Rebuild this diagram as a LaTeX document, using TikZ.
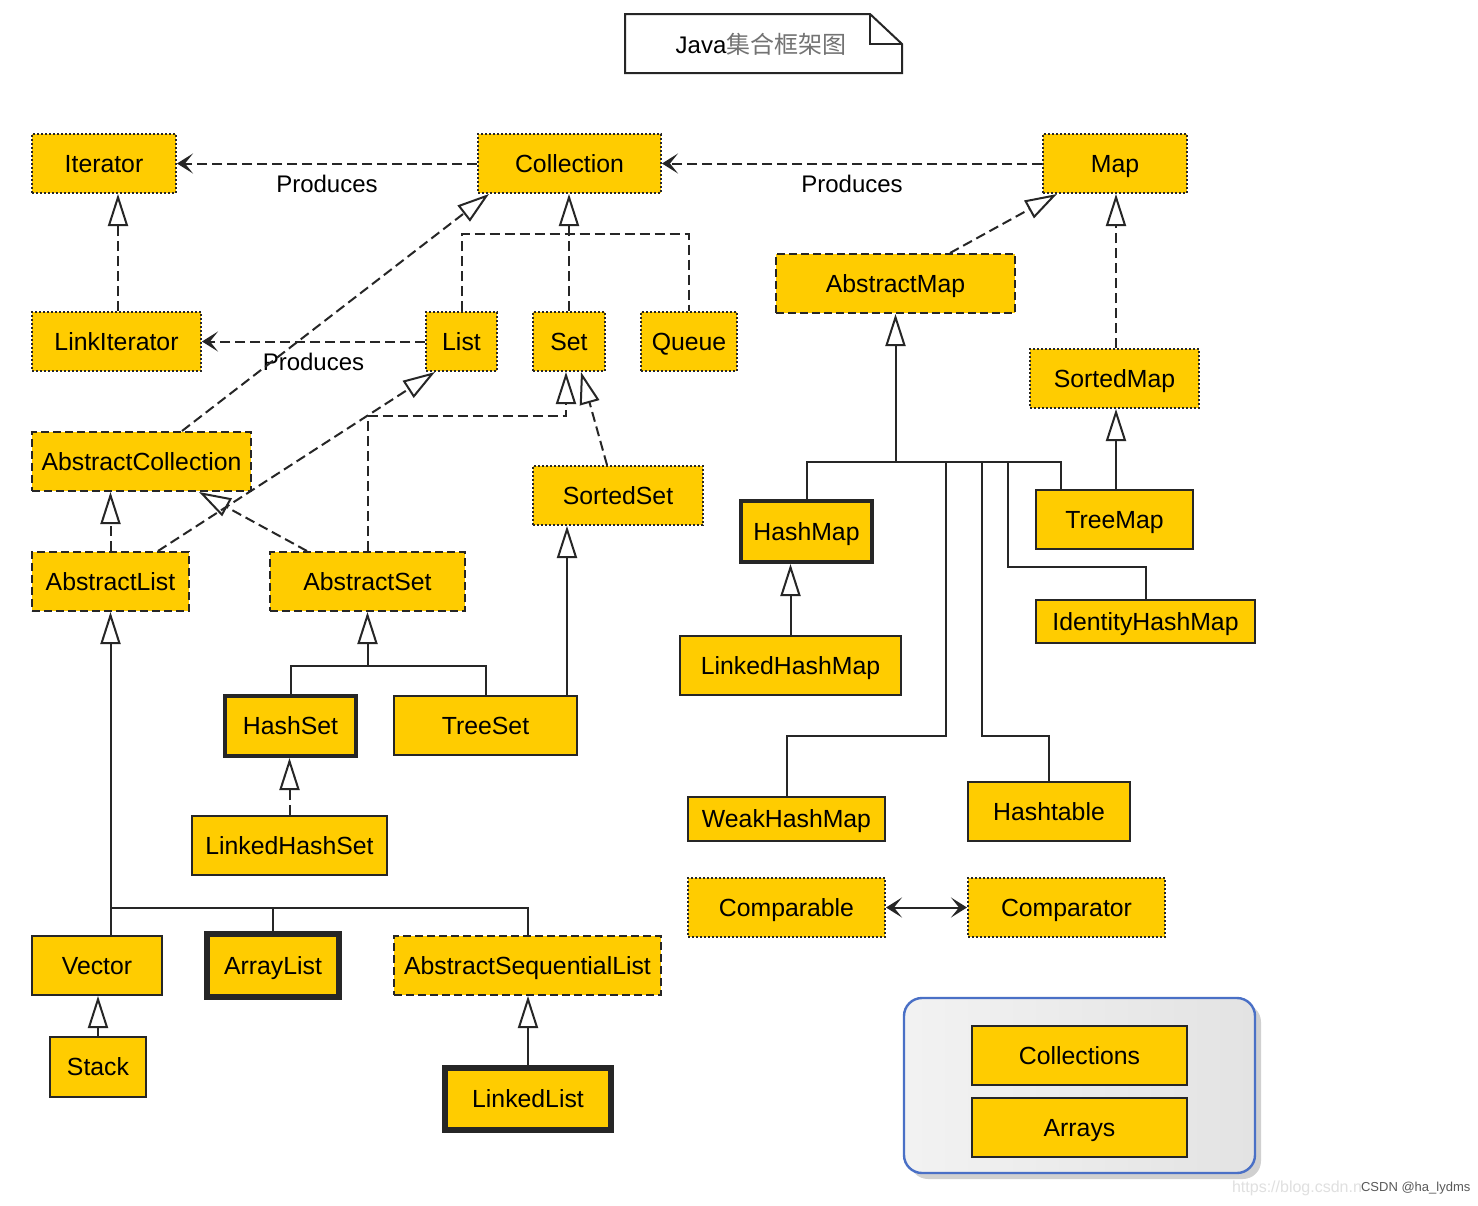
\documentclass[tikz,border=0pt]{standalone}
\usepackage{fontspec}
\setmainfont{Liberation Sans}
\newfontfamily\cjk{Noto Sans CJK SC}
\usepackage{xcolor}
\usepackage{tikz}
\usetikzlibrary{arrows.meta,shadows}
\definecolor{clsfill}{HTML}{FFCC00}
\definecolor{grpblue}{HTML}{4A70C6}

\begin{document}
\begin{tikzpicture}[x=0.5pt,y=-0.5pt,
  cls/.style={fill=clsfill, draw=black!85, line width=1pt, inner sep=0pt, font=\fontsize{12.4}{15}\selectfont,
    text height=1.05em, text depth=0.2em},
  sz/.style 2 args={minimum width=#1*0.5pt, minimum height=#2*0.5pt},
  iface/.style={cls, dash pattern=on 1pt off 1pt},
  abstr/.style={cls, dash pattern=on 4pt off 2pt},
  concr/.style={cls},
  concrb/.style={cls, line width=2pt},
  concrh/.style={cls, line width=3pt},
  grpbox/.style={draw=grpblue, line width=1.2pt, rounded corners=9pt, left color=black!5, right color=black!11,
    drop shadow={shadow xshift=3pt, shadow yshift=-3pt, opacity=0.3, fill=black!60}},
  conn/.style={line width=1pt, draw=black!85},
  link/.style={conn},
  dlink/.style={conn, dash pattern=on 5pt off 2.5pt},
  gen/.style={conn, -{Triangle[open,length=16pt,width=10pt]}},
  dgen/.style={gen, dash pattern=on 5pt off 2.5pt},
  dep/.style={dlink, -{Stealth[length=8pt,width=10pt,inset=4pt]}},
  assoc/.style={conn, {Stealth[length=8pt,width=10pt,inset=4pt]}-{Stealth[length=8pt,width=10pt,inset=4pt]}},
  prod/.style={font=\fontsize{12}{14}\selectfont, below=2pt}]
\fill[white] (0,0) rectangle (1478,1205);
\useasboundingbox (0,0) rectangle (1478,1205);

\draw[conn] (625,14) -- (870,14) -- (902,44) -- (902,73) -- (625,73) -- cycle;
\draw[conn] (870,14) |- (902,44);
\node[font=\fontsize{12}{14}\selectfont] (title) at (761,44) {Java{\cjk\color{black!55}集合框架图}};

\node[iface, sz={144}{59}] (iter) at (104,163.5) {Iterator};
\node[iface, sz={183}{59}] (coll) at (569.5,163.5) {Collection};
\node[iface, sz={144}{59}] (map) at (1115,163.5) {Map};
\node[iface, sz={169}{59}] (liter) at (116.5,341.5) {LinkIterator};
\node[iface, sz={71}{59}] (list) at (461.5,341.5) {List};
\node[iface, sz={72}{59}] (set) at (569,341.5) {Set};
\node[iface, sz={96}{59}] (queue) at (689,341.5) {Queue};
\node[abstr, sz={239}{59}] (amap) at (895.5,283.5) {AbstractMap};
\node[iface, sz={169}{59}] (smap) at (1114.5,378.5) {SortedMap};
\node[abstr, sz={219}{59}] (acoll) at (141.5,461.5) {AbstractCollection};
\node[iface, sz={170}{59}] (sset) at (618,495.5) {SortedSet};
\node[abstr, sz={157}{59}] (alist) at (110.5,581.5) {AbstractList};
\node[abstr, sz={195}{59}] (aset) at (367.5,581.5) {AbstractSet};
\node[concrb, sz={131}{61}] (hmap) at (806.5,531.5) {HashMap};
\node[concr, sz={157}{59}] (tmap) at (1114.5,519.5) {TreeMap};
\node[concr, sz={219}{43}] (ihmap) at (1145.5,621.5) {IdentityHashMap};
\node[concr, sz={221}{59}] (lhmap) at (790.5,665.5) {LinkedHashMap};
\node[concrb, sz={131}{60}] (hset) at (290.5,726) {HashSet};
\node[concr, sz={183}{59}] (tset) at (485.5,725.5) {TreeSet};
\node[concr, sz={195}{59}] (lhset) at (289.5,845.5) {LinkedHashSet};
\node[concr, sz={197}{44}] (whmap) at (786.5,819) {WeakHashMap};
\node[concr, sz={162}{59}] (htab) at (1049,811.5) {Hashtable};
\node[iface, sz={197}{59}] (cmpble) at (786.5,907.5) {Comparable};
\node[iface, sz={197}{59}] (cmptor) at (1066.5,907.5) {Comparator};
\node[concr, sz={130}{59}] (vec) at (97,965.5) {Vector};
\node[concrh, sz={132}{63}] (alst) at (273,965.5) {ArrayList};
\node[abstr, sz={267}{59}] (asl) at (527.5,965.5) {AbstractSequentialList};
\node[concr, sz={96}{60}] (stack) at (98,1067) {Stack};
\node[concrh, sz={166}{62}] (llist) at (528,1099) {LinkedList};
\node[grpbox, sz={351}{175}] (grp) at (1079.5,1085.5) {};
\node[concr, sz={215}{59}] (colls) at (1079.5,1055.5) {Collections};
\node[concr, sz={215}{59}] (arrs) at (1079.5,1127.5) {Arrays};

\draw[dep] (coll.west) -- node[prod] {Produces} (iter.east);
\draw[dep] (map.west) -- node[prod] {Produces} (coll.east);
\draw[dep] (list.west) -- node[prod] {Produces} (liter.east);
\draw[dgen] ([xshift=0.75pt]liter.north) -- ([xshift=0.75pt]liter.north |- iter.south);
\draw[dlink] (list.north) |- (queue.north |- 0,234) -- (queue.north);
\draw[dgen] (set.north) -- (set.north |- coll.south);
\draw[dgen] ([xshift=20.25pt]acoll.north) -- ([xshift=6pt]coll.south west);
\draw[dgen] ([xshift=23.75pt]alist.north) -- ([xshift=5pt]list.south west);
\draw[dgen] (aset.north) |- ([xshift=-1.5pt]set.south |- 0,416) -- ([xshift=-1.5pt]set.south);
\draw[dgen] ([xshift=-5.5pt]sset.north) -- ([xshift=6pt]set.south);
\draw[dgen] (alist.north) -- (alist.north |- acoll.south);
\draw[dgen] ([xshift=19pt]aset.north west) -- ([xshift=-26.5pt]acoll.south east);
\draw[gen] ([xshift=-5.5pt]tset.north east) -- ([xshift=-5.5pt]tset.north east |- sset.south);
\draw[link] (hset.north) |- (tset.north |- 0,666) -- (tset.north);
\draw[gen] (aset.south |- 0,666) -- (aset.south);
\draw[dgen] (lhset.north) -- (lhset.north |- hset.south);
\draw[link] (alist.south |- vec.north) -- (alist.south |- 0,908) -| (asl.north);
\draw[link] (alst.north) -- (alst.north |- 0,908);
\draw[gen] (alist.south |- 0,908) -- (alist.south);
\draw[gen] (stack.north) -- (stack.north |- vec.south);
\draw[gen] (llist.north) -- (llist.north |- asl.south);
\draw[dgen] ([xshift=27.25pt]amap.north) -- ([xshift=7.5pt]map.south west);
\draw[dgen] ([xshift=0.75pt]smap.north) -- ([xshift=0.75pt]smap.north |- map.south);
\draw[gen] ([xshift=0.75pt]tmap.north) -- ([xshift=0.75pt]tmap.north |- smap.south);
\draw[link] (hmap.north) |- ([xshift=13pt]tmap.north west |- 0,462) -- ([xshift=13pt]tmap.north west);
\draw[gen] (amap.south |- 0,462) -- (amap.south);
\draw[link] (whmap.north) -- (whmap.north |- 0,736) -| (946,462);
\draw[link] (htab.north) -- (htab.north |- 0,736) -| (982,462);
\draw[link] (ihmap.north) -- (ihmap.north |- 0,567) -| (1008,462);
\draw[gen] (lhmap.north) -- (lhmap.north |- hmap.south);
\draw[assoc] (cmpble.east) -- (cmptor.west);

\node[anchor=west, font=\fontsize{8}{9}\selectfont, text=black!12] (url) at (1225,1188) {https://blog.csdn.n};
\node[anchor=west, font=\fontsize{6.5}{8}\selectfont, text=black!65] (mark) at (1354,1188) {CSDN @ha\_lydms};
\end{tikzpicture}
\end{document}
